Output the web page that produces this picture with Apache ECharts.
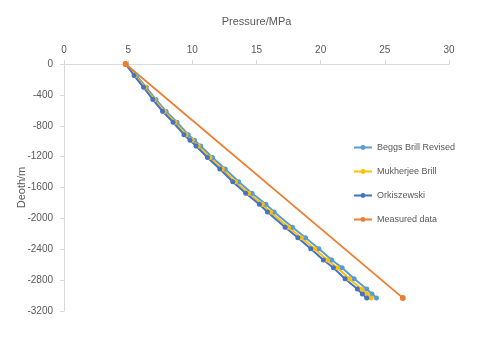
<!DOCTYPE html>
<html>
<head>
<meta charset="utf-8">
<script src="https://cdn.jsdelivr.net/npm/echarts@6/dist/echarts.min.js"></script>
<style>html,body{margin:0;padding:0;background:#fff}#c{width:480px;height:343px}</style>
</head>
<body>
<div id="c"></div>
<script>
// Depth (m, negative downward) shared by the three model series
var depths = [0, -149, -302, -460, -613, -755, -916, -988, -1062, -1211, -1360, -1525, -1675, -1818, -1917, -2116, -2250, -2393, -2539, -2639, -2781, -2915, -2980, -3030];
// Pressures (MPa)
var beggsBrill = [4.8, 5.64, 6.41, 7.16, 7.95, 8.80, 9.68, 10.17, 10.65, 11.57, 12.56, 13.61, 14.65, 15.73, 16.38, 17.80, 18.82, 19.86, 20.87, 21.67, 22.61, 23.59, 24.00, 24.35];
var mukherjee = [4.8, 5.54, 6.30, 7.03, 7.81, 8.64, 9.50, 9.98, 10.46, 11.36, 12.33, 13.36, 14.38, 15.45, 16.09, 17.49, 18.49, 19.52, 20.51, 21.30, 22.22, 23.19, 23.59, 23.93];
var orkiszewski = [4.8, 5.46, 6.20, 6.92, 7.68, 8.50, 9.35, 9.82, 10.29, 11.18, 12.14, 13.15, 14.16, 15.22, 15.85, 17.23, 18.22, 19.23, 20.21, 20.99, 21.90, 22.86, 23.25, 23.59];
var measuredDepths = [0, -3030];
var measuredPressure = [4.8, 26.4];
var seriesNames = ['Beggs Brill Revised', 'Mukherjee Brill', 'Orkiszewski', 'Measured data'];
var xTicks = {min: 0, max: 30, interval: 5};
var yTicks = {min: -3200, max: 0, interval: 400};

function pairs(p, d) { return p.map(function (v, i) { return [v, d[i]]; }); }

var txt = '#595959';
var chart = echarts.init(document.getElementById('c'), null, {renderer: 'canvas'});
chart.setOption({
  animation: false,
  textStyle: {fontFamily: 'Liberation Sans, Arial, sans-serif'},
  grid: {left: 64, top: 64, right: 31, bottom: 32, containLabel: false, outerBoundsMode: 'none'},
  xAxis: {
    type: 'value', position: 'top', min: xTicks.min, max: xTicks.max, interval: xTicks.interval,
    name: 'Pressure/MPa', nameLocation: 'middle', nameGap: 37, nameMoveOverlap: false,
    nameTextStyle: {color: txt, fontSize: 11},
    axisLine: {show: true, onZero: false, lineStyle: {color: '#d9d9d9'}},
    axisTick: {show: true, length: 4, lineStyle: {color: '#d9d9d9'}},
    axisLabel: {color: txt, fontSize: 10, margin: 9, formatter: function (v) { return String(v); }},
    splitLine: {show: false}
  },
  yAxis: {
    type: 'value', min: yTicks.min, max: yTicks.max, interval: yTicks.interval,
    name: 'Deoth/m', nameLocation: 'middle', nameGap: 37, nameMoveOverlap: false,
    nameTextStyle: {color: txt, fontSize: 11},
    axisLine: {show: true, onZero: false, lineStyle: {color: '#d9d9d9'}},
    axisTick: {show: true, length: 4, lineStyle: {color: '#d9d9d9'}},
    axisLabel: {color: txt, fontSize: 10, margin: 11, formatter: function (v) { return String(v); }},
    splitLine: {show: false}
  },
  legend: {
    orient: 'vertical', right: 20, top: 138, itemGap: 15,
    itemWidth: 18, itemHeight: 6,
    textStyle: {color: txt, fontSize: 9},
    data: seriesNames
  },
  series: [
    {name: seriesNames[0], type: 'line', data: pairs(beggsBrill, depths), symbol: 'circle', symbolSize: 5,
     lineStyle: {width: 2, color: '#5B9BD5'}, itemStyle: {color: '#5B9BD5'}},
    {name: seriesNames[1], type: 'line', data: pairs(mukherjee, depths), symbol: 'circle', symbolSize: 5,
     lineStyle: {width: 2, color: '#FFC000'}, itemStyle: {color: '#FFC000'}},
    {name: seriesNames[2], type: 'line', data: pairs(orkiszewski, depths), symbol: 'circle', symbolSize: 5,
     lineStyle: {width: 2, color: '#4472C4'}, itemStyle: {color: '#4472C4'}},
    {name: seriesNames[3], type: 'line', data: pairs(measuredPressure, measuredDepths), symbol: 'circle', symbolSize: 6,
     lineStyle: {width: 1.75, color: '#ED7D31'}, itemStyle: {color: '#ED7D31'}}
  ]
});
</script>
</body>
</html>
